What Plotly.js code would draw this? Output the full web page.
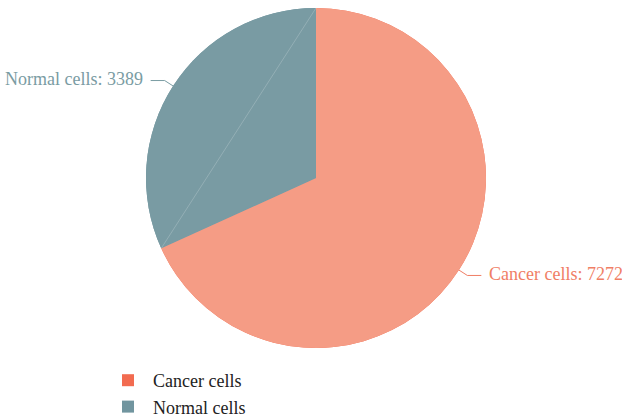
<!DOCTYPE html>
<html>
<head>
<meta charset="utf-8">
<script src="https://cdn.plot.ly/plotly-3.0.1.min.js"></script>
<style>
  html, body { margin: 0; padding: 0; background: #ffffff; }
  #chart { width: 622px; height: 417px; }
</style>
</head>
<body>
<div id="chart"></div>
<script>
// Cell counts per class
const labels = ['Cancer cells', 'Normal cells'];
const counts = [7272, 3389];

// Colours: slice fill, legend key, outside label text
const sliceColors = ['#F59C85', '#799BA3'];
const keyColors = ['#F26B50', '#71959F'];
const textColors = ['#F07E65', '#7A9CA3'];

const W = 622, H = 417;
const CX = 316, CY = 178, R = 170;   // pie centre and radius in pixels
const FONT = 'Liberation Serif, Times New Roman, serif';

const toPX = x => x / W;
const toPY = y => 1 - y / H;

const domain = {
  x: [toPX(CX - R), toPX(CX + R)],
  y: [toPY(CY + R), toPY(CY - R)]
};

// Lower pie carries the legend colours; upper pie draws the visible slices.
const keyPie = {
  type: 'pie', labels: labels, values: counts, sort: false,
  direction: 'clockwise', rotation: 0, domain: domain,
  marker: { colors: keyColors, line: { width: 0 } },
  textinfo: 'none', hoverinfo: 'label+value', showlegend: true
};
const mainPie = {
  type: 'pie', labels: labels, values: counts, sort: false,
  direction: 'clockwise', rotation: 0, domain: domain,
  marker: { colors: sliceColors, line: { width: 0 } },
  textinfo: 'none', hoverinfo: 'label+value', showlegend: false
};

// Outside labels with elbow leader lines, placed from each slice's mid-angle
const total = counts.reduce((a, b) => a + b, 0);
const annotations = [];
const shapes = [];
const boundaries = [];
let cum = 0;
counts.forEach((v, i) => {
  const a0 = cum / total * 2 * Math.PI;
  cum += v;
  const a1 = cum / total * 2 * Math.PI;
  boundaries.push(a0);
  const mid = (a0 + a1) / 2;
  const sx = Math.sin(mid), cy = Math.cos(mid);
  const side = sx >= 0 ? 1 : -1;
  const ex = CX + R * sx, ey = CY - R * cy;
  const kx = CX + (R + 10) * sx, ky = CY - (R + 10) * cy;
  const hx = kx + side * 14;
  shapes.push({
    type: 'path', xref: 'paper', yref: 'paper',
    path: `M ${toPX(ex)},${toPY(ey)} L ${toPX(kx)},${toPY(ky)} L ${toPX(hx)},${toPY(ky)}`,
    line: { color: textColors[i], width: 1 }
  });
  annotations.push({
    xref: 'paper', yref: 'paper', showarrow: false,
    x: toPX(hx + side * 6), y: toPY(ky - 1.5),
    xanchor: side > 0 ? 'left' : 'right', yanchor: 'middle',
    text: `${labels[i]}: ${counts[i]}`,
    font: { family: FONT, size: 18, color: textColors[i] }
  });
});

// Faint seam across the smaller slice between its two edge points
const pt = a => [CX + R * Math.sin(a), CY - R * Math.cos(a)];
const [p0x, p0y] = pt(boundaries[0]);
const [p1x, p1y] = pt(boundaries[1]);
shapes.push({
  type: 'line', xref: 'paper', yref: 'paper',
  x0: toPX(p0x), y0: toPY(p0y), x1: toPX(p1x), y1: toPY(p1y),
  line: { color: 'rgba(255,255,255,0.2)', width: 1 }
});

const layout = {
  width: W, height: H,
  margin: { l: 0, r: 0, t: 0, b: 0, autoexpand: false },
  paper_bgcolor: '#ffffff',
  showlegend: true,
  legend: {
    x: toPX(103), y: toPY(362), xanchor: 'left', yanchor: 'top',
    itemwidth: 40,
    font: { family: FONT, size: 18, color: '#222222' },
    bgcolor: 'rgba(0,0,0,0)', traceorder: 'normal'
  },
  annotations: annotations,
  shapes: shapes
};

Plotly.newPlot('chart', [keyPie, mainPie], layout, { displayModeBar: false, staticPlot: true });
</script>
</body>
</html>
